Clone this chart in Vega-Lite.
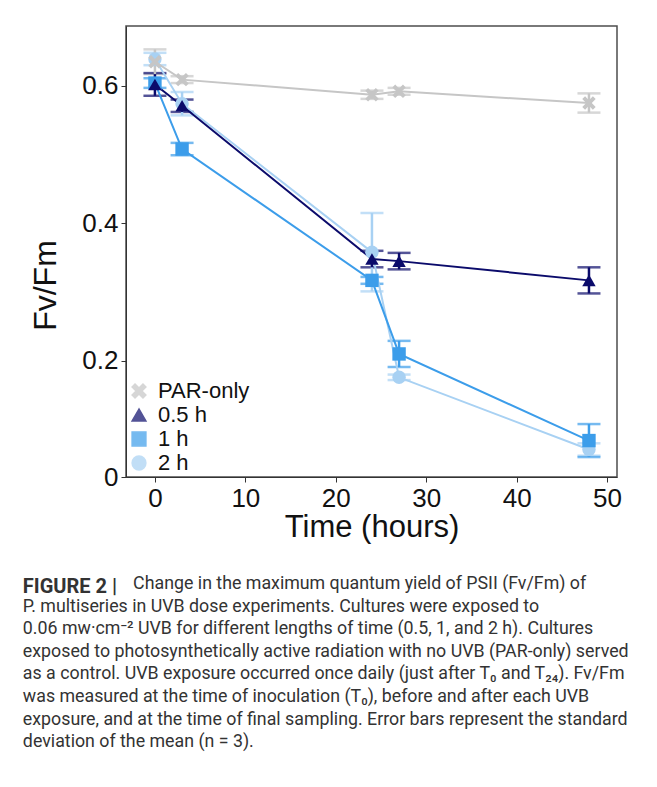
{
  "$schema": "https://vega.github.io/schema/vega-lite/v6.json",
  "width": 491,
  "height": 451,
  "padding": {"left": 22, "top": 26, "right": 5, "bottom": 5},
  "background": "white",
  "config": {
    "view": {"stroke": "#4d4d4d", "strokeWidth": 1.5},
    "font": "Liberation Sans"
  },
  "title": {
    "text": "FIGURE 2 |",
    "subtitle": [
      "\u200b\u00a0\u00a0\u00a0\u00a0\u00a0\u00a0\u00a0\u00a0\u00a0\u00a0\u00a0\u00a0\u00a0\u00a0\u00a0\u00a0\u00a0\u00a0\u00a0\u00a0\u00a0\u00a0\u00a0\u00a0\u00a0Change in the maximum quantum yield of PSII (Fv/Fm) of",
      "P. multiseries in UVB dose experiments. Cultures were exposed to",
      "0.06 mw·cm⁻² UVB for different lengths of time (0.5, 1, and 2 h). Cultures",
      "exposed to photosynthetically active radiation with no UVB (PAR-only) served",
      "as a control. UVB exposure occurred once daily (just after T₀ and T₂₄). Fv/Fm",
      "was measured at the time of inoculation (T₀), before and after each UVB",
      "exposure, and at the time of final sampling. Error bars represent the standard",
      "deviation of the mean (n = 3)."
    ],
    "orient": "bottom",
    "anchor": "start",
    "frame": "bounds",
    "font": "Roboto",
    "fontSize": 20,
    "fontWeight": "bold",
    "color": "#333333",
    "subtitleFont": "Roboto",
    "subtitleFontSize": 17.8,
    "subtitleFontWeight": "normal",
    "subtitleColor": "#333333",
    "subtitleLineHeight": 22.6,
    "subtitlePadding": -22,
    "offset": 35,
    "dx": -7
  },
  "data": {
    "values": [
      {"series": "2 h", "time": 0, "fv": 0.639, "sd": 0.009},
      {"series": "2 h", "time": 3, "fv": 0.574, "sd": 0.017},
      {"series": "2 h", "time": 24, "fv": 0.358, "sd": 0.057},
      {"series": "2 h", "time": 27, "fv": 0.176, "sd": 0.004},
      {"series": "2 h", "time": 48, "fv": 0.071, "sd": 0.009},
      {"series": "1 h", "time": 0, "fv": 0.604, "sd": 0.007},
      {"series": "1 h", "time": 3, "fv": 0.508, "sd": 0.009},
      {"series": "1 h", "time": 24, "fv": 0.317, "sd": 0.005},
      {"series": "1 h", "time": 27, "fv": 0.210, "sd": 0.019},
      {"series": "1 h", "time": 48, "fv": 0.084, "sd": 0.024},
      {"series": "0.5 h", "time": 0, "fv": 0.602, "sd": 0.0165},
      {"series": "0.5 h", "time": 3, "fv": 0.571, "sd": 0.009},
      {"series": "0.5 h", "time": 24, "fv": 0.348, "sd": 0.012},
      {"series": "0.5 h", "time": 27, "fv": 0.345, "sd": 0.012},
      {"series": "0.5 h", "time": 48, "fv": 0.317, "sd": 0.019},
      {"series": "PAR-only", "time": 0, "fv": 0.635, "sd": 0.018},
      {"series": "PAR-only", "time": 3, "fv": 0.609, "sd": 0.005},
      {"series": "PAR-only", "time": 24, "fv": 0.587, "sd": 0.006},
      {"series": "PAR-only", "time": 27, "fv": 0.592, "sd": 0.005},
      {"series": "PAR-only", "time": 48, "fv": 0.575, "sd": 0.014}
    ]
  },
  "encoding": {
    "x": {
      "field": "time",
      "type": "quantitative",
      "scale": {"domain": [-3.2, 51.1], "nice": false, "zero": false},
      "axis": {
        "title": "Time (hours)",
        "values": [0, 10, 20, 30, 40, 50],
        "grid": false,
        "domainColor": "#333333",
        "tickColor": "#333333",
        "tickSize": 5,
        "labelFontSize": 26,
        "labelColor": "#111111",
        "labelPadding": 3,
        "titleFontSize": 31,
        "titleFontWeight": "normal",
        "titleColor": "#111111",
        "titlePadding": 1
      }
    },
    "y": {
      "field": "fv",
      "type": "quantitative",
      "scale": {"domain": [0.031, 0.687], "nice": false, "zero": false},
      "axis": {
        "title": "Fv/Fm",
        "values": [0.031, 0.2, 0.4, 0.6],
        "labelExpr": "datum.value < 0.1 ? '0' : format(datum.value, '.1f')",
        "grid": false,
        "domainColor": "#333333",
        "tickColor": "#333333",
        "tickSize": 5,
        "labelFontSize": 26,
        "labelColor": "#111111",
        "labelPadding": 3,
        "titleFontSize": 32,
        "titleFontWeight": "normal",
        "titleColor": "#111111",
        "titlePadding": 19,
        "titleY": 259
      }
    },
    "color": {
      "field": "series",
      "type": "nominal",
      "scale": {
        "domain": ["PAR-only", "0.5 h", "1 h", "2 h"],
        "range": ["#c6c6c6", "#0b0b6b", "#3c9dea", "#a8d1f3"]
      },
      "legend": {
        "title": null,
        "orient": "none",
        "legendX": 2,
        "legendY": 354,
        "labelFontSize": 22,
        "labelColor": "#111111",
        "symbolSize": 190,
        "rowPadding": 2,
        "labelOffset": 8,
        "padding": 0
      }
    }
  },
  "layer": [
    {
      "mark": {"type": "errorbar", "ticks": true, "size": 23, "thickness": 2.5},
      "encoding": {
        "yError": {"field": "sd"}
      }
    },
    {
      "mark": {"type": "line", "strokeWidth": 2},
      "encoding": {}
    },
    {
      "mark": {"type": "point", "filled": true, "opacity": 1, "size": 180},
      "encoding": {
        "shape": {
          "field": "series",
          "type": "nominal",
          "scale": {
            "domain": ["PAR-only", "0.5 h", "1 h", "2 h"],
            "range": ["M-0.58,-1L0,-0.42L0.58,-1L1,-0.58L0.42,0L1,0.58L0.58,1L0,0.42L-0.58,1L-1,0.58L-0.42,0L-1,-0.58Z", "triangle-up", "square", "circle"]
          },
          "legend": {
            "title": null,
            "orient": "none",
            "legendX": 2,
            "legendY": 354,
            "labelFontSize": 22,
            "labelColor": "#111111",
            "symbolSize": 190,
            "rowPadding": 2,
            "labelOffset": 8,
            "padding": 0
          }
        }
      }
    }
  ]
}
